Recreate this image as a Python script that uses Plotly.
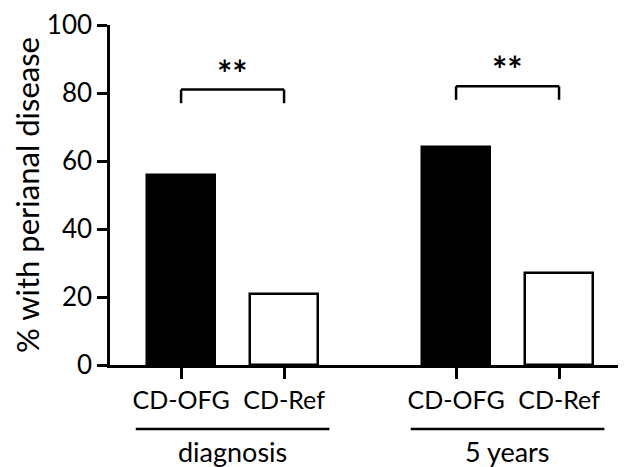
import plotly.graph_objects as go

groups = ["diagnosis", "5 years"]
categories = ["CD-OFG", "CD-Ref"]
values = [[56, 21], [64, 27]]
fills = ["black", "white"]
sig_labels = ["**", "**"]
bracket_top = [81, 82]
bracket_drop = 4
y_ticks = [0, 20, 40, 60, 80, 100]

group_gap = 2.67
bar_width = 0.66

fig = go.Figure()
tickvals, ticktext = [], []
for gi, g in enumerate(groups):
    xs = [gi * group_gap + ci for ci in range(len(categories))]
    tickvals += xs
    ticktext += categories
    fig.add_trace(go.Bar(
        x=xs, y=values[gi], width=bar_width,
        marker=dict(color=fills, line=dict(color="black", width=2.5)),
        showlegend=False, hoverinfo="skip"))
    # significance bracket
    fig.add_shape(type="line", x0=xs[0], x1=xs[0], y0=bracket_top[gi] - bracket_drop, y1=bracket_top[gi],
                  xref="x", yref="y", line=dict(color="black", width=2.5))
    fig.add_shape(type="line", x0=xs[0], x1=xs[1], y0=bracket_top[gi], y1=bracket_top[gi],
                  xref="x", yref="y", line=dict(color="black", width=2.5))
    fig.add_shape(type="line", x0=xs[1], x1=xs[1], y0=bracket_top[gi] - bracket_drop, y1=bracket_top[gi],
                  xref="x", yref="y", line=dict(color="black", width=2.5))
    center = (xs[0] + xs[1]) / 2
    fig.add_annotation(x=center, y=bracket_top[gi], yshift=17, text="<b>" + sig_labels[gi] + "</b>",
                       showarrow=False, xref="x", yref="y",
                       font=dict(family="Lato", size=36, color="black"))
    # group underline and label
    fig.add_shape(type="line", x0=center - 0.94, x1=center + 0.94, y0=-0.188, y1=-0.188,
                  xref="x", yref="paper", line=dict(color="black", width=2.5))
    fig.add_annotation(x=center, y=-0.255, text=g, showarrow=False, xref="x", yref="paper",
                       yanchor="middle", font=dict(family="Lato", size=27, color="black"))

# the page body has an 8px margin, so the figure is shrunk by 8px and margins reduced
fig.update_layout(
    width=618, height=459,
    margin=dict(l=102, r=0, t=12, b=102),
    paper_bgcolor="white", plot_bgcolor="white",
    font=dict(family="Lato", size=24, color="black"),
    bargap=0,
)
fig.update_xaxes(range=[-0.69, 4.32], tickvals=tickvals, ticktext=ticktext,
                 showline=True, linecolor="black", linewidth=2.5,
                 ticks="outside", ticklen=11, tickwidth=2.5, tickcolor="black",
                 showgrid=False, zeroline=False, tickfont=dict(size=25),
                 ticklabeloverflow="allow")
fig.update_yaxes(range=[0, 100], tickvals=y_ticks,
                 showline=True, linecolor="black", linewidth=2.5,
                 ticks="outside", ticklen=10, tickwidth=2.5, tickcolor="black",
                 showgrid=False, zeroline=False, tickfont=dict(size=26),
                 ticklabeloverflow="allow",
                 title=dict(text="% with perianal disease", font=dict(size=31), standoff=1))

fig.write_html("out.html")
